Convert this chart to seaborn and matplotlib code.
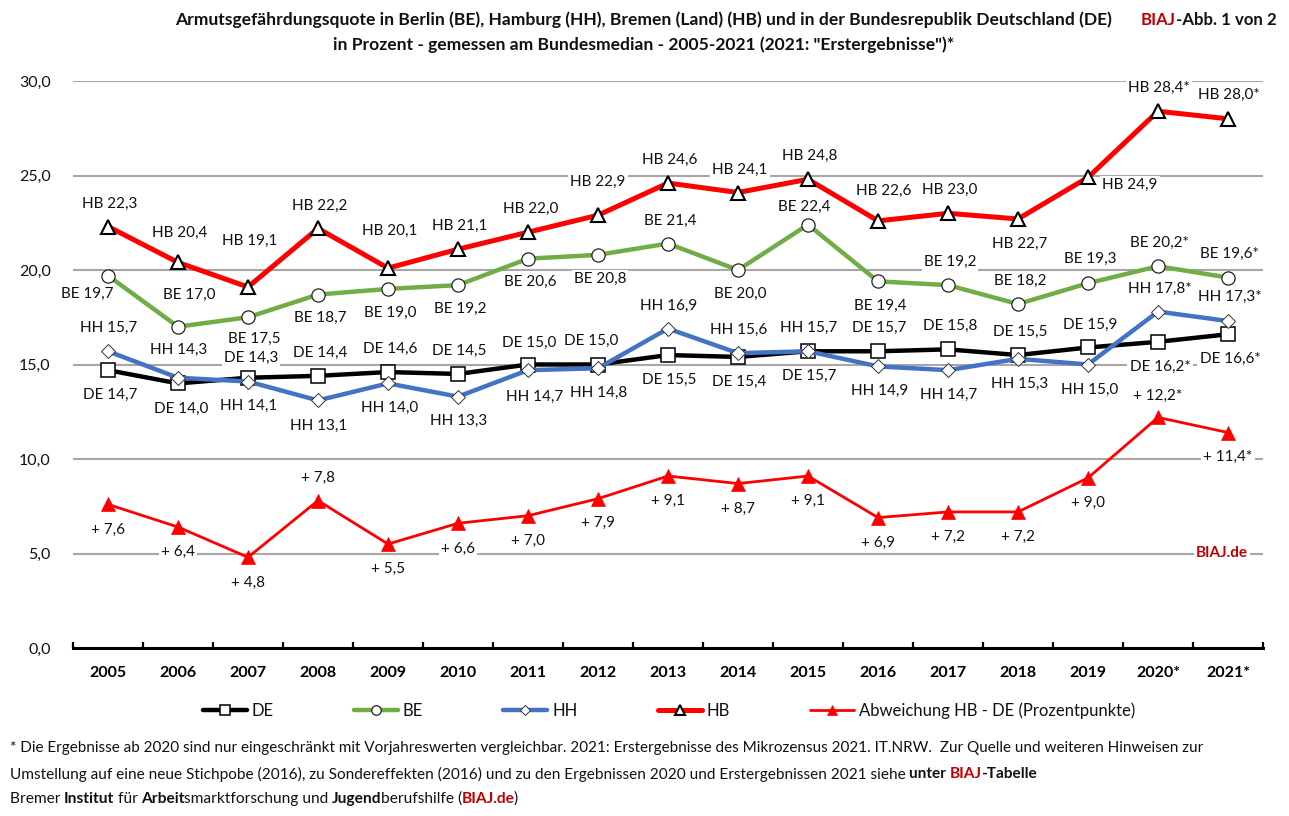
import matplotlib
matplotlib.use("Agg")
import matplotlib.pyplot as plt
import pandas as pd
import seaborn as sns

# Data
years = ["2005", "2006", "2007", "2008", "2009", "2010", "2011", "2012", "2013",
         "2014", "2015", "2016", "2017", "2018", "2019", "2020*", "2021*"]
de = [14.7, 14.0, 14.3, 14.4, 14.6, 14.5, 15.0, 15.0, 15.5, 15.4, 15.7, 15.7, 15.8, 15.5, 15.9, 16.2, 16.6]
be = [19.7, 17.0, 17.5, 18.7, 19.0, 19.2, 20.6, 20.8, 21.4, 20.0, 22.4, 19.4, 19.2, 18.2, 19.3, 20.2, 19.6]
hh = [15.7, 14.3, 14.1, 13.1, 14.0, 13.3, 14.7, 14.8, 16.9, 15.6, 15.7, 14.9, 14.7, 15.3, 15.0, 17.8, 17.3]
hb = [22.3, 20.4, 19.1, 22.2, 20.1, 21.1, 22.0, 22.9, 24.6, 24.1, 24.8, 22.6, 23.0, 22.7, 24.9, 28.4, 28.0]
abw = [7.6, 6.4, 4.8, 7.8, 5.5, 6.6, 7.0, 7.9, 9.1, 8.7, 9.1, 6.9, 7.2, 7.2, 9.0, 12.2, 11.4]
y_ticks = [0, 5, 10, 15, 20, 25, 30]

# Label offsets from the point, in pixels (dx, dy up)
de_dx = [2, 3, 3, 2, 2, 1, 1, -7, 1, 1, 1, 1, 2, 2, 2, 2, 2]
de_dy = [-25, -25, 20, 23, 23, 23, 22, 24, -25, -25, -25, 23, 23, 23, 23, -25, -25]
be_dx = [-21, 11, 6, 2, 2, 2, 2, 2, 2, 2, -4, 2, 2, 2, 2, 1, 1]
be_dy = [-18, 32, -22, -23, -24, -24, -23, -24, 23, -24, 18, -25, 23, 23, 24, 23, 24]
hh_dx = [1, 1, 1, 1, 2, 1, 7, 1, 1, 1, 1, 2, 1, 2, 2, 2, 2]
hh_dy = [23, 28, -24, -25, -24, -24, -27, -25, 23, 23, 23, -25, -25, -25, -25, 23, 24]
hb_dx = [2, 2, 2, 2, 2, 2, 3, 0, 2, 2, 2, 6, 2, 2, 42, 1, 1]
hb_dy = [23, 30, 46, 23, 37, 23, 23, 33, 23, 23, 23, 30, 23, -25, -8, 23, 24]
abw_dx = [0] * 17
abw_dy = [-26, -25, -26, 23, -25, -26, -25, -24, -25, -25, -25, -25, -25, -25, -25, 22, -24]

W, H = 1289, 816
FONT = "Lato"
FS = 11.5
LABEL_FS = 11
DARKRED = "#C00000"

sns.set_theme(style="white")
plt.rcParams["font.family"] = [FONT, "DejaVu Sans"]

df = pd.DataFrame({"Jahr": years, "DE": de, "BE": be, "HH": hh, "HB": hb, "Abw": abw})

fig = plt.figure(figsize=(W / 100, H / 100), dpi=100)
ax = fig.add_axes([73 / W, 1 - 648 / H, 1190 / W, 567 / H])

# series
sns.lineplot(data=df, x="Jahr", y="DE", ax=ax, sort=False, errorbar=None, color="black", linewidth=3.2,
             marker="s", markersize=9.5, markerfacecolor="white", markeredgecolor="black",
             markeredgewidth=1.1, label="DE", zorder=4)
sns.lineplot(data=df, x="Jahr", y="BE", ax=ax, sort=False, errorbar=None, color="#70AD47", linewidth=3.2,
             marker="o", markersize=9.5, markerfacecolor="white", markeredgecolor="#222222",
             markeredgewidth=0.9, label="BE", zorder=5)
sns.lineplot(data=df, x="Jahr", y="HH", ax=ax, sort=False, errorbar=None, color="#4472C4", linewidth=3.2,
             marker="D", markersize=7.5, markerfacecolor="white", markeredgecolor="#333333",
             markeredgewidth=0.7, label="HH", zorder=6)
sns.lineplot(data=df, x="Jahr", y="HB", ax=ax, sort=False, errorbar=None, color="#FF0000", linewidth=3.6,
             marker="^", markersize=9.5, markerfacecolor="white", markeredgecolor="black",
             markeredgewidth=1.5, label="HB", zorder=7)
sns.lineplot(data=df, x="Jahr", y="Abw", ax=ax, sort=False, errorbar=None, color="#FF0000", linewidth=2,
             marker="^", markersize=10, markerfacecolor="#FF0000", markeredgecolor="#FF0000",
             markeredgewidth=0.5, label="Abweichung HB - DE (Prozentpunkte)", zorder=8)

# axes
ax.set_xlim(-0.5, 16.5)
ax.set_ylim(0, 30)
ax.set_xlabel("")
ax.set_ylabel("")
ax.set_yticks(y_ticks)
ax.set_yticklabels([f"{t:.1f}".replace(".", ",") for t in y_ticks], fontsize=FS, color="#111111")
ax.tick_params(axis="y", length=0, pad=16)
ax.grid(axis="y", color="#A9A6A6", linewidth=1.5, zorder=1)
ax.set_axisbelow(True)
ax.set_xticks([i - 0.5 for i in range(18)])
ax.set_xticklabels([])
ax.set_xticks(range(17), minor=True)
ax.set_xticklabels(years, minor=True, fontsize=FS, fontweight="bold", color="black")
ax.tick_params(axis="x", which="major", direction="in", length=4.5, width=1.6, color="black", bottom=True)
ax.tick_params(axis="x", which="minor", length=0, pad=13)
for side in ["top", "left", "right"]:
    ax.spines[side].set_visible(False)
ax.spines["bottom"].set_color("black")
ax.spines["bottom"].set_linewidth(2.2)
ax.spines["bottom"].set_zorder(3)


def num(v):
    return f"{v:.1f}".replace(".", ",")


def put_labels(name, values, dxs, dys, plus=False):
    for i, v in enumerate(values):
        star = "*" if years[i].endswith("*") else ""
        txt = f"+ {num(v)}{star}" if plus else f"{name} {num(v)}{star}"
        ax.annotate(txt, (i, v), xytext=(dxs[i], dys[i]), textcoords="offset pixels",
                    ha="center", va="center", fontsize=LABEL_FS, color="#111111", zorder=2,
                    bbox=dict(boxstyle="square,pad=0.14", fc="white", ec="none"))


put_labels("DE", de, de_dx, de_dy)
put_labels("BE", be, be_dx, be_dy)
put_labels("HH", hh, hh_dx, hh_dy)
put_labels("HB", hb, hb_dx, hb_dy)
put_labels("", abw, abw_dx, abw_dy, plus=True)

# legend
ax.legend(loc="center", bbox_to_anchor=(669 / W, 1 - 711 / H), bbox_transform=fig.transFigure,
          ncol=5, frameon=False, fontsize=12, handlelength=2.64, columnspacing=4.8,
          handletextpad=0.3, borderpad=0, labelcolor="#111111", markerscale=0.72)


# text built from runs with different weight / colour
def runs(x, y, parts, size):
    r = fig.canvas.get_renderer()
    for s, bold, col in parts:
        t = fig.text(x / W, 1 - y / H, s, fontsize=size, color=col, va="center", ha="left",
                     fontweight="bold" if bold else "normal")
        x = t.get_window_extent(r).x1 - 0.5


TITLE_FS = 12.6
fig.text(644 / W, 1 - 20 / H,
         "Armutsgefährdungsquote in Berlin (BE), Hamburg (HH), Bremen (Land) (HB) und in der Bundesrepublik Deutschland (DE)",
         ha="center", va="center", fontsize=TITLE_FS, fontweight="bold", color="#111111")
fig.text(644 / W, 1 - 45 / H,
         'in Prozent - gemessen am Bundesmedian - 2005-2021 (2021: "Erstergebnisse")*',
         ha="center", va="center", fontsize=TITLE_FS, fontweight="bold", color="#111111")
runs(1141, 20, [("BIAJ", True, DARKRED), ("-Abb. 1 von 2", True, "#111111")], 12.1)

fig.text(1222 / W, 1 - 553 / H, "BIAJ.de", ha="center", va="center", fontsize=11, fontweight="bold",
         color=DARKRED, zorder=3, bbox=dict(boxstyle="square,pad=0.1", fc="white", ec="none"))

# footnote
runs(10, 748, [("* Die Ergebnisse ab 2020 sind nur eingeschränkt mit Vorjahreswerten vergleichbar. 2021: Erstergebnisse des Mikrozensus 2021. IT.NRW.  Zur Quelle und weiteren Hinweisen zur", False, "#111111")], 11)
runs(10, 774, [("Umstellung auf eine neue Stichpobe (2016), zu Sondereffekten (2016) und zu den Ergebnissen 2020 und Erstergebnissen 2021 siehe ", False, "#111111"),
               ("unter ", True, "#111111"), ("BIAJ", True, DARKRED), ("-Tabelle", True, "#111111")], 11.05)
runs(10, 799, [("Bremer ", False, "#111111"), ("Institut", True, "#111111"), (" für ", False, "#111111"),
               ("Arbeit", True, "#111111"), ("smarktforschung und ", False, "#111111"),
               ("Jugend", True, "#111111"), ("berufshilfe (", False, "#111111"),
               ("BIAJ.de", True, DARKRED), (")", False, "#111111")], 11.2)

fig.savefig("out.png", dpi=100)
